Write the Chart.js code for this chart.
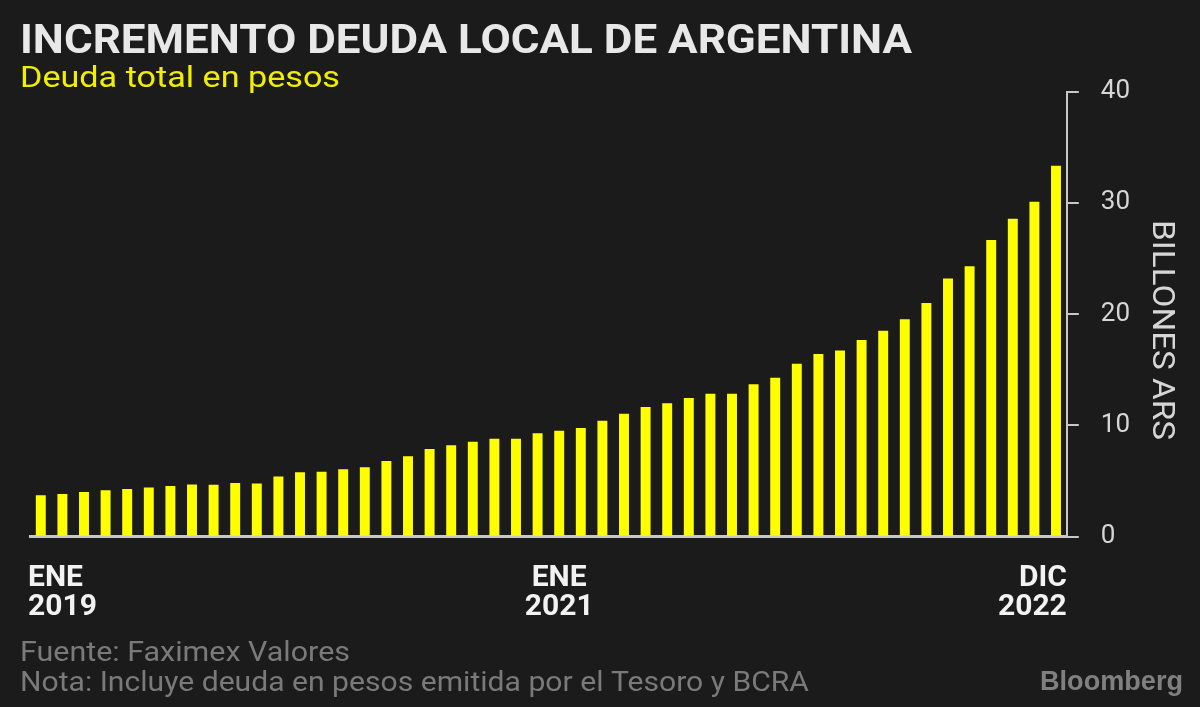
<!DOCTYPE html>
<html>
<head>
<meta charset="utf-8">
<script src="https://cdn.jsdelivr.net/npm/chart.js@4"></script>
<style>
  html, body { margin: 0; padding: 0; background: #1b1b1b; }
  #wrap { width: 1200px; height: 707px; }
</style>
</head>
<body>
<div id="wrap"><canvas id="chart" width="1200" height="707"></canvas></div>
<script>
const meses = ['ENE', 'FEB', 'MAR', 'ABR', 'MAY', 'JUN', 'JUL', 'AGO', 'SEP', 'OCT', 'NOV', 'DIC'];
const anios = ['2019', '2020', '2021', '2022'];

// deuda total en pesos, billones ARS, ene 2019 - dic 2022
const deuda = [
  3.72, 3.84, 4.02, 4.17, 4.28, 4.42, 4.56, 4.68, 4.67, 4.82, 4.79, 5.42,
  5.78, 5.84, 6.06, 6.24, 6.81, 7.23, 7.89, 8.22, 8.52, 8.80, 8.79, 9.30,
  9.52, 9.76, 10.42, 11.05, 11.65, 11.98, 12.46, 12.85, 12.85, 13.69, 14.29, 15.54,
  16.41, 16.74, 17.67, 18.50, 19.53, 21.0, 23.2, 24.29, 26.66, 28.57, 30.10, 33.33,
];

const categorias = [];
anios.forEach((a) => meses.forEach((m) => categorias.push(m + ' ' + a)));

const xTickIdx = [0, 24, 47];
const xTickText = [['ENE', '2019'], ['ENE', '2021'], ['DIC', '2022']];
const yTicks = [0, 10, 20, 30, 40];

const titulo = 'INCREMENTO DEUDA LOCAL DE ARGENTINA';
const subtitulo = 'Deuda total en pesos';
const ejeY = 'BILLONES ARS';
const fuente = 'Fuente: Faximex Valores';
const nota = 'Nota: Incluye deuda en pesos emitida por el Tesoro y BCRA';

// draw text squeezed/stretched to an exact width
function fitText(ctx, text, x, y, w) {
  const m = ctx.measureText(text).width;
  ctx.save();
  ctx.translate(x, y);
  ctx.scale(w / m, 1);
  ctx.textAlign = 'left';
  ctx.fillText(text, 0, 0);
  ctx.restore();
}

const textos = {
  id: 'textos',
  afterDraw(chart) {
    const { ctx, chartArea, scales: { x } } = chart;
    ctx.save();
    ctx.textBaseline = 'alphabetic';

    ctx.fillStyle = '#e8e8e8';
    ctx.font = 'bold 41px Roboto';
    fitText(ctx, titulo, 20, 53, 892);

    ctx.fillStyle = '#f2ee00';
    ctx.font = '30px Roboto';
    fitText(ctx, subtitulo, 20, 87, 320);

    // x labels
    ctx.fillStyle = '#f2f2f2';
    ctx.font = 'bold 30px Roboto';
    xTickIdx.forEach((idx, i) => {
      let px = x.getPixelForValue(idx);
      if (i === 0) {
        ctx.textAlign = 'left';
        px = chartArea.left - 2;
      } else if (i === xTickIdx.length - 1) {
        ctx.textAlign = 'right';
        px = chartArea.right;
      } else {
        ctx.textAlign = 'center';
      }
      ctx.fillText(xTickText[i][0], px, 586);
      ctx.fillText(xTickText[i][1], px, 615);
    });

    // y title
    ctx.fillStyle = '#d6d6d6';
    ctx.font = '31px Roboto';
    ctx.save();
    ctx.translate(1153, 220);
    ctx.rotate(Math.PI / 2);
    fitText(ctx, ejeY, 0, 0, 220);
    ctx.restore();

    ctx.fillStyle = '#7a7a7a';
    ctx.font = '28px Roboto';
    fitText(ctx, fuente, 20, 661, 330);
    fitText(ctx, nota, 20, 691, 789);

    ctx.fillStyle = '#808080';
    ctx.font = 'bold 28px "Liberation Sans"';
    fitText(ctx, 'Bloomberg', 1040, 690, 143);

    ctx.restore();
  },
};

const config = {
  type: 'bar',
  data: {
    labels: categorias,
    datasets: [
      {
        label: 'Deuda total en pesos',
        data: deuda,
        backgroundColor: '#ffff00',
        barPercentage: 0.46,
        categoryPercentage: 1,
      },
    ],
  },
  options: {
    responsive: false,
    animation: false,
    layout: {
      padding: { left: 30, top: 91.5, right: 0, bottom: 0 },
    },
    scales: {
      x: {
        grid: { display: false },
        border: { display: true, color: '#c8c8c8', width: 3 },
        ticks: { display: false },
        afterFit: (scale) => {
          scale.height = 170.3;
        },
      },
      y: {
        position: 'right',
        min: 0,
        max: 40,
        afterBuildTicks: (scale) => {
          scale.ticks = yTicks.map((v) => ({ value: v }));
        },
        grid: {
          display: true,
          drawOnChartArea: false,
          drawTicks: true,
          tickLength: 12,
          color: '#c8c8c8',
          lineWidth: 2,
        },
        border: { display: true, color: '#c8c8c8', width: 2 },
        ticks: {
          color: '#d6d6d6',
          font: { family: 'Roboto', size: 26 },
          padding: 22,
        },
        afterFit: (scale) => {
          scale.width = 133.2;
        },
      },
    },
    plugins: {
      legend: { display: false },
      tooltip: { enabled: false },
    },
  },
  plugins: [textos],
};

new Chart(document.getElementById('chart'), config);
</script>
</body>
</html>
